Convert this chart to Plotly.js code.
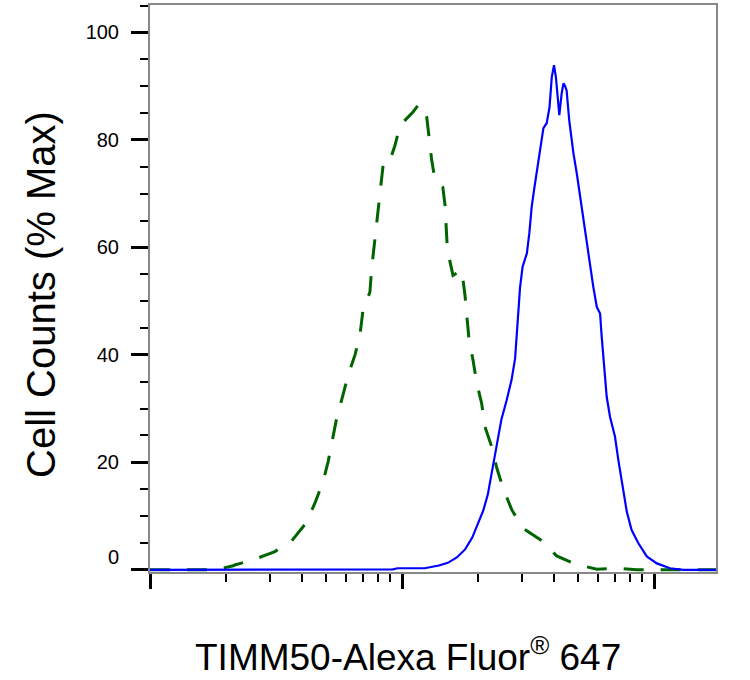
<!DOCTYPE html>
<html>
<head>
<meta charset="utf-8">
<script src="https://cdn.plot.ly/plotly-3.0.1.min.js"></script>
<style>
  body { margin: 0; background: #fff; }
  #chart { width: 750px; height: 680px; }
</style>
</head>
<body>
<div id="chart"></div>
<script>
// isotype control (green dashed)
let isoX = [10, 18, 21.2, 21.7, 26.1, 31.3, 36.5, 41.6, 45.2, 48.6,
            50.9, 53.1, 55.1, 58.3, 61.1, 65.1, 68.1, 70.0, 74.6, 75.8,
            77.4, 78.7, 80.3, 82.6, 84.1, 88.0, 93.8, 98.2, 110.6, 115.7,
            121.2, 125.3, 128, 131.2, 135.2, 145.2, 148.2, 149.6, 151.4, 159.4,
            172.6, 177.8, 180.7, 184.5, 191.4, 197.9, 207, 213.5, 227, 237.6,
            251.8, 272.5, 301, 354, 411, 486, 593, 711, 853, 1000, 1762];
let isoY = [0, 0, 0.7, 0.9, 2.0, 3.4, 5.4, 8.7, 12.5, 16.4,
            20.1, 24.5, 28.3, 32.5, 36.2, 40.0, 43.7, 48.3, 51.7, 56.1,
            59.9, 64.1, 67.8, 72.5, 75.2, 75.1, 79.0, 82.7, 85.2, 86.4,
            86.4, 84.3, 80.5, 76.2, 72.5, 71.2, 67.8, 63.2, 59.5, 54.8,
            55.8, 51.1, 47.1, 42.8, 39.0, 34.8, 31.0, 26.6, 22.9, 19.0,
            15.2, 11.2, 7.8, 5.6, 2.6, 1.1, 0.1, 0.3, 0, 0, 0];

// TIMM50 stained (blue solid)
let timX = [10, 60, 92, 96, 123, 140, 152, 165, 178, 190,
            200, 210, 219, 228, 238, 248, 260, 272, 281, 286,
            290, 294, 301, 313, 320, 327, 334, 343, 353, 364,
            375, 385, 393, 401, 408, 415, 421, 430, 437, 443,
            450, 461, 479, 494, 509, 524, 541, 557, 574, 593,
            611, 620, 634, 649, 669, 700, 722, 745, 780, 815,
            866, 936, 1026, 1157, 1306, 1762];
let timY = [0, 0, 0.1, 0.3, 0.3, 0.8, 1.3, 2.3, 3.8, 6.0,
            8.5, 11, 14, 18.5, 24, 28, 31.5, 35.3, 39.3, 44,
            48.5, 52.5, 56.4, 58.9, 62.6, 67.5, 70.6, 74.3, 78.7, 82.2,
            83.1, 86.1, 91.7, 93.9, 91.7, 87, 84.6, 88.6, 90.5, 90.1,
            89.2, 83.6, 77.5, 73.7, 69.4, 65.1, 61.3, 57.0, 52.7, 48.9,
            47.7, 43.4, 37.2, 32.2, 28.5, 24.8, 20.4, 16.4, 10.8, 7.4,
            5.0, 2.5, 1.2, 0.3, 0, 0];

let yTickVals = [20, 40, 60, 80, 100];
let xMajorVals = [10, 100, 1000];

// minor log ticks 2..9 in each decade
let xMinorVals = [];
[10, 100].forEach(function(d) {
    for (let k = 2; k <= 9; k++) xMinorVals.push(k * d);
});

let tickFont = {family: 'Liberation Sans, Arial, sans-serif', size: 20, color: '#000'};
let xTitleFont = {family: 'Liberation Sans, Arial, sans-serif', size: 37, color: '#000'};
let yTitleFont = {family: 'Liberation Sans, Arial, sans-serif', size: 40, color: '#000'};

var iso = {
    x: isoX, y: isoY, type: 'scatter', mode: 'lines',
    line: {color: '#006400', width: 3, dash: '20px,17px'},
    hoverinfo: 'skip'
};
var tim = {
    x: timX, y: timY, type: 'scatter', mode: 'lines',
    line: {color: '#0000ff', width: 2.2},
    hoverinfo: 'skip'
};

var layout = {
    width: 750, height: 680,
    margin: {l: 150, r: 34, t: 5, b: 108},
    paper_bgcolor: '#fff', plot_bgcolor: '#fff',
    showlegend: false,
    xaxis: {
        type: 'log',
        range: [1, 3.246],
        tickmode: 'array', tickvals: xMajorVals,
        showticklabels: false,
        ticks: 'outside', ticklen: 15, tickwidth: 3, tickcolor: '#000',
        minor: {tickmode: 'array', tickvals: xMinorVals, ticks: 'outside', ticklen: 8, tickwidth: 2, tickcolor: '#000', showgrid: false},
        showgrid: false, zeroline: false,
        showline: true, linecolor: '#888', linewidth: 2, mirror: true
    },
    yaxis: {
        range: [-0.4, 105.1],
        tickmode: 'array',
        // the zero label sits a little above its tick in the original
        tickvals: [0].concat(yTickVals),
        ticktext: ['0<br>\u00a0'].concat(yTickVals.map(String)),
        tickfont: tickFont,
        ticks: 'outside', ticklen: 17, tickwidth: 3, tickcolor: '#000',
        ticklabelstandoff: 8,
        minor: {dtick: 5, tick0: 0, ticks: 'outside', ticklen: 8, tickwidth: 2, tickcolor: '#000', showgrid: false},
        showgrid: false, zeroline: false,
        showline: true, linecolor: '#888', linewidth: 2, mirror: true
    },
    annotations: [
        {
            text: 'TIMM50-Alexa Fluor<sup>®</sup> 647',
            xref: 'paper', yref: 'paper', x: 0.456, y: -0.145,
            xanchor: 'center', yanchor: 'middle', showarrow: false,
            font: xTitleFont
        },
        {
            text: 'Cell Counts (% Max)',
            xref: 'paper', yref: 'paper', x: -0.193, y: 0.49,
            xanchor: 'center', yanchor: 'middle', showarrow: false,
            textangle: -90, font: yTitleFont
        }
    ]
};

Plotly.newPlot('chart', [iso, tim], layout, {staticPlot: true});
</script>
</body>
</html>
